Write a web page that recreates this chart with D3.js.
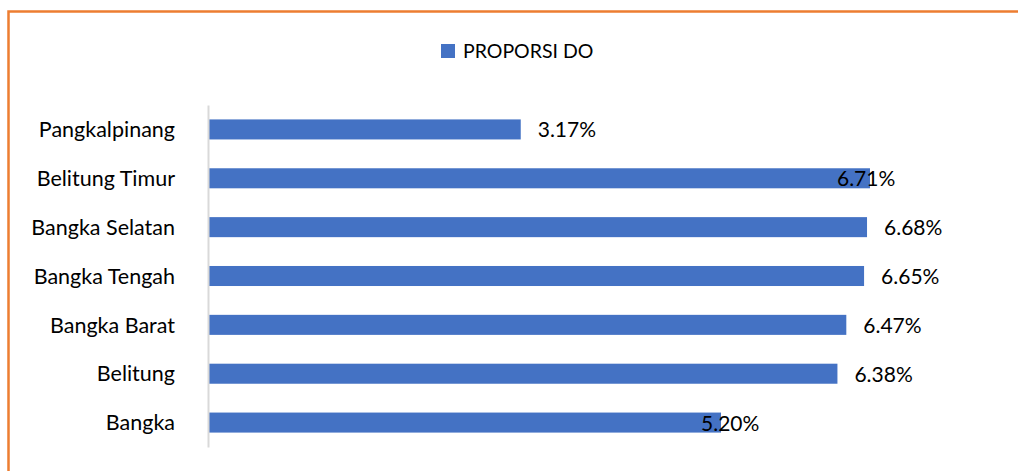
<!DOCTYPE html>
<html>
<head>
<meta charset="utf-8">
<script src="https://cdn.jsdelivr.net/npm/d3@7"></script>
<style>
    body { margin: 0; background: #fff; }
    svg { display: block; }
    .bar-chart__label { font-family: Lato, "Open Sans", sans-serif; font-size: 21px; fill: #000; }
    .bar-chart__axis .bar-chart__label { font-size: 21.5px; }
    .bar-chart__legend .bar-chart__label { font-size: 19.5px; }
    .bar-chart__axis path { stroke: #d9d9d9; stroke-width: 2; }
</style>
</head>
<body>
<svg class="chart"></svg>
<script>
// данные
const categories = ["Pangkalpinang", "Belitung Timur", "Bangka Selatan", "Bangka Tengah", "Bangka Barat", "Belitung", "Bangka"];
const proporsiDO = [3.17, 6.71, 6.68, 6.65, 6.47, 6.38, 5.20];
const seriesName = "PROPORSI DO";

const size = {width: 1018, height: 471};

const svg = d3.select(".chart")
    .attr("width", size.width)
    .attr("height", size.height);

// рамка
svg.append("rect")
    .attr("x", 8.5)
    .attr("y", 11.5)
    .attr("width", size.width + 10)
    .attr("height", size.height + 10)
    .attr("fill", "none")
    .attr("stroke", "#ED7D31")
    .attr("stroke-width", 2.5);

const x = d3.scaleLinear().domain([0, 7]).range([208, 898.6]);
const y = d3.scaleBand()
    .domain(categories)
    .range([105, 447])
    .paddingInner(0.59)
    .paddingOuter(0.295);

const data = categories.map((c, i) => ({name: c, value: proporsiDO[i]}));

svg.selectAll(".bar")
    .data(data)
    .enter().append("rect")
    .attr("class", "bar")
    .attr("x", x(0))
    .attr("y", d => y(d.name))
    .attr("width", d => x(d.value) - x(0))
    .attr("height", y.bandwidth())
    .attr("fill", "#4472C4");

// ось
const yAxis = d3.axisLeft(y).tickSize(0).tickPadding(33);
const axisG = svg.append("g")
    .attr("class", "bar-chart__axis")
    .attr("transform", `translate(${x(0)},0)`)
    .call(yAxis);
axisG.selectAll("text")
    .attr("class", "bar-chart__label")
    .attr("dy", "0.36em");

// подписи (две сдвинуты вручную, как в оригинале)
const labelNudge = {"Belitung Timur": -50, "Bangka": -37};
svg.selectAll(".value")
    .data(data)
    .enter().append("text")
    .attr("class", "bar-chart__label")
    .attr("x", d => x(d.value) + 17 + (labelNudge[d.name] || 0))
    .attr("y", d => y(d.name) + y.bandwidth() / 2)
    .attr("dy", "0.38em")
    .text(d => d.value.toFixed(2) + "%");

// легенда
const legend = svg.append("g")
    .attr("class", "bar-chart__legend")
    .attr("transform", "translate(441,44)");
legend.append("rect")
    .attr("width", 14)
    .attr("height", 14)
    .attr("fill", "#4472C4");
legend.append("text")
    .attr("class", "bar-chart__label")
    .attr("x", 22)
    .attr("y", 7)
    .attr("dy", "0.36em")
    .text(seriesName);
</script>
</body>
</html>
